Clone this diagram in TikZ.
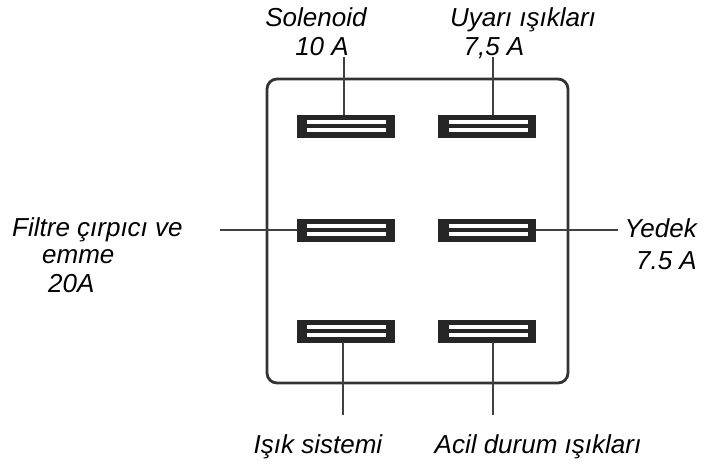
\documentclass[tikz,border=0pt]{standalone}
\usepackage{fontspec}
\setmainfont{Liberation Sans}
\begin{document}
\begin{tikzpicture}[x=1pt,y=-1pt,
  fuse/.style={fill=black!85, draw=black!85, minimum width=97pt, minimum height=22pt, inner sep=0pt,
    path picture={
      \fill[white] ([xshift=10pt,yshift=2pt]path picture bounding box.west) rectangle ([xshift=-8pt,yshift=6pt]path picture bounding box.east);
      \fill[white] ([xshift=10pt,yshift=-2pt]path picture bounding box.west) rectangle ([xshift=-8pt,yshift=-6pt]path picture bounding box.east);}},
  lbl/.style={font=\fontsize{26}{30}\selectfont\itshape, inner sep=0pt},
  wire/.style={draw=black!75, line width=1.3pt},
  casebox/.style={draw=black!80, line width=2.8pt, rounded corners=10pt, minimum width=301pt, minimum height=304pt, inner sep=0pt}]
\useasboundingbox (0,0) rectangle (704,471);

\node[casebox] (box) at (417.5,231) {};

\node[fuse] (f1) at (345.5,126) {};
\node[fuse] (f2) at (487,126) {};
\node[fuse] (f3) at (345.5,230) {};
\node[fuse] (f4) at (487,230) {};
\node[fuse] (f5) at (345.5,331) {};
\node[fuse] (f6) at (487,331) {};

\coordinate (t1) at (344,57);
\coordinate (t2) at (493,57);
\coordinate (m1) at (220,230);
\coordinate (m2) at (618,230);
\coordinate (b1) at (343,415);
\coordinate (b2) at (493,415);

\draw[wire] (t1) -- (t1 |- f1.north);
\draw[wire] (t2) -- (t2 |- f2.north);
\draw[wire] (m1) -- (f3.west);
\draw[wire] (f4.east) -- (m2);
\draw[wire] (b1 |- f5.south) -- (b1);
\draw[wire] (b2 |- f6.south) -- (b2);

\node[lbl, anchor=base] (l1a) at (316,26) {Solenoid};
\node[lbl, anchor=base] (l1b) at (322,55) {10 A};
\node[lbl, anchor=base] (l2a) at (523,26) {Uyarı ışıkları};
\node[lbl, anchor=base] (l2b) at (494,55) {7,5 A};
\node[lbl, anchor=base west] (l3a) at (12,236) {Filtre çırpıcı ve};
\node[lbl, anchor=base west] (l3b) at (42,263) {emme};
\node[lbl, anchor=base west] (l3c) at (48,292) {20A};
\node[lbl, anchor=base east] (l4a) at (697,237) {Yedek};
\node[lbl, anchor=base east] (l4b) at (697,269) {7.5 A};
\node[lbl, anchor=base] (l5) at (318,453) {Işık sistemi};
\node[lbl, anchor=base] (l6) at (538,453) {Acil durum ışıkları};
\end{tikzpicture}
\end{document}
